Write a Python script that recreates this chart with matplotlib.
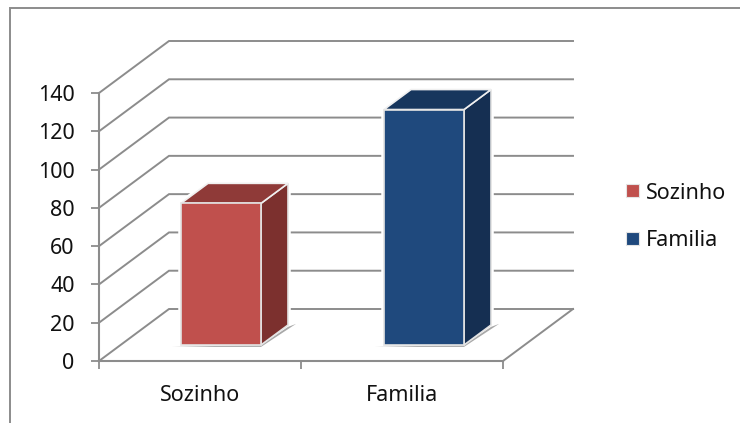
import matplotlib
matplotlib.use("Agg")
import matplotlib.pyplot as plt
from matplotlib.lines import Line2D
from matplotlib.patches import Patch, Polygon

categories = ["Sozinho", "Familia"]
values = [74, 123]
y_ticks = [0, 20, 40, 60, 80, 100, 120, 140]

front_colors = ["#C0504D", "#1F497D"]
side_colors = ["#7C302E", "#152F52"]
top_colors = ["#8F3A38", "#17365D"]
line_color = "#8C8C8C"

W, H = 740, 423
plt.rcParams["font.family"] = ["Noto Sans", "DejaVu Sans"]
FS = 15.5

fig = plt.figure(figsize=(W / 100, H / 100), dpi=100)
# eixo frontal do grafico: x 99..503, y 361..93 em pixels
ax = fig.add_axes([99 / W, 1 - 361 / H, 404 / W, 268 / H])
ax.set_xlim(0, 2)
ax.set_ylim(0, 140)

# profundidade 3D em unidades dos dados
DX = 70 / 202
DY = 52 / (268 / 140)


def poly(points, color, z, edge="none", lw=0, alpha=1):
    ax.add_patch(Polygon(points, closed=True, facecolor=color, edgecolor=edge,
                         linewidth=lw, alpha=alpha, zorder=z, clip_on=False,
                         joinstyle="miter"))


# parede do fundo e parede esquerda
for t in y_ticks:
    ax.plot([0, DX, 2 + DX], [t, t + DY, t + DY], color=line_color, lw=1.4,
            zorder=1, clip_on=False, solid_joinstyle="miter")
# lado direito do chao
ax.plot([2, 2 + DX], [0, DY], color=line_color, lw=1.4, zorder=1, clip_on=False)

# barras
bar_w = 0.396
bar_dx = 27 / 202
bar_dy = 20 / (268 / 140)
base = 16 / (268 / 140)
for i, v in enumerate(values):
    x0 = i + 0.406 + (0.005 * i)
    x1 = x0 + bar_w
    top = base + v
    # halo branco que corta as linhas de grade
    poly([(x0, base), (x1, base), (x1 + bar_dx, base + bar_dy),
          (x1 + bar_dx, top + bar_dy), (x0 + bar_dx, top + bar_dy), (x0, top)],
         "white", 3, edge="white", lw=4)
    # sombra no chao
    poly([(x0 - 0.045, base - 1.0), (x1, base - 1.0), (x1 + bar_dx + 0.04, base + bar_dy + 0.6),
          (x1 + bar_dx, base + bar_dy - 1), (x1, base)], "#A8A8A8", 3.5)
    poly([(x1, base), (x1 + bar_dx, base + bar_dy), (x1 + bar_dx, top + bar_dy), (x1, top)],
         side_colors[i], 4, edge="#E4E4E4", lw=1.2)
    poly([(x0, top), (x1, top), (x1 + bar_dx, top + bar_dy), (x0 + bar_dx, top + bar_dy)],
         top_colors[i], 4, edge="#F0F0F0", lw=1.2)
    poly([(x0, base), (x1, base), (x1, top), (x0, top)],
         front_colors[i], 5, edge="#E4E4E4", lw=1.2)

# eixos
for s in ["top", "right"]:
    ax.spines[s].set_visible(False)
for s in ["left", "bottom"]:
    ax.spines[s].set_color(line_color)
    ax.spines[s].set_linewidth(1.5)
ax.patch.set_alpha(0)
ax.set_yticks(y_ticks)
ax.set_xticks([0, 1, 2])
ax.set_xticklabels([])
ax.set_xticks([0.5, 1.5], minor=True)
ax.set_xticklabels(categories, minor=True, fontsize=FS, color="#111111")
ax.tick_params(axis="y", length=5.5, width=1.3, color=line_color, labelsize=FS,
               labelcolor="#111111", pad=12)
ax.tick_params(axis="x", which="major", length=5.5, width=1.3, color=line_color)
ax.tick_params(axis="x", which="minor", length=0, pad=17.5)

# legenda
handles = [Patch(facecolor=c, edgecolor="#E4E4E4", linewidth=0.8) for c in front_colors]
fig.legend(handles, categories, loc="center left", bbox_to_anchor=(620 / W, 1 - 217 / H),
           frameon=False, fontsize=FS, handlelength=0.56, handleheight=0.56,
           handletextpad=0.36, labelspacing=1.25, borderpad=0, borderaxespad=0.3,
           labelcolor="#111111")

# moldura do grafico (so topo e esquerda aparecem)
fig.add_artist(Line2D([10 / W, 10 / W, 1], [0, 1 - 8 / H, 1 - 8 / H], color=line_color,
                      lw=1.4, solid_joinstyle="miter"))

fig.savefig("out.png", dpi=100)
